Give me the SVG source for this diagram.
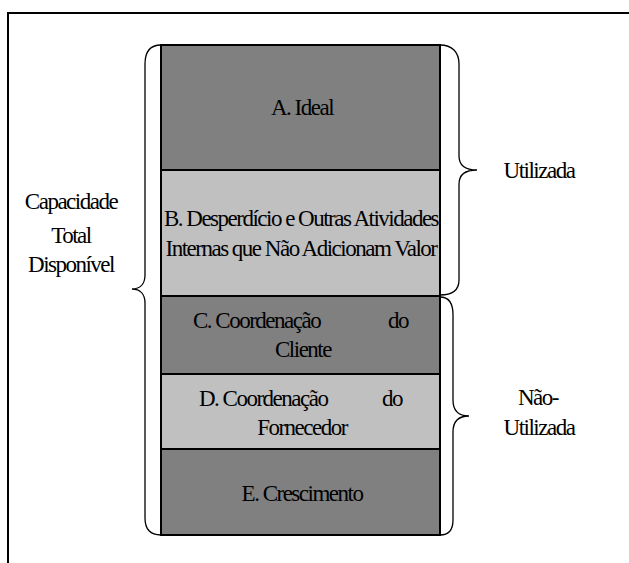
<svg xmlns="http://www.w3.org/2000/svg" width="629" height="563" viewBox="0 0 629 563">
<style>
text{font-family:'Liberation Serif','Times New Roman','DejaVu Serif',serif;font-size:23px;fill:#000;letter-spacing:-1.5px}
.c{text-anchor:middle}
.dark{fill:#808080;stroke:#000;stroke-width:2}
.light{fill:#c0c0c0;stroke:#000;stroke-width:2}
.brace{fill:none;stroke:#000;stroke-width:1.3}
.frame{fill:none;stroke:#000;stroke-width:2}
</style>
<rect width="629" height="563" fill="#fff"/>
<path class="frame" d="M8,563 L8,13 L629,13"/>
<g id="nodeA"><rect class="dark" x="161" y="45" width="279" height="125"/><text class="c" x="302" y="115">A. Ideal</text></g>
<g id="nodeB"><rect class="light" x="161" y="170" width="279" height="126"/><text class="c" x="301" y="226">B. Desperdício e Outras Atividades</text><text class="c" x="301" y="256">Internas que Não Adicionam Valor</text></g>
<g id="nodeC"><rect class="dark" x="161" y="296" width="279" height="78"/><text x="193" y="328">C. Coordenação</text><text x="388" y="328">do</text><text class="c" x="303" y="357">Cliente</text></g>
<g id="nodeD"><rect class="light" x="161" y="374" width="279" height="75"/><text x="199" y="406">D. Coordenação</text><text x="382" y="406">do</text><text class="c" x="302" y="435">Fornecedor</text></g>
<g id="nodeE"><rect class="dark" x="161" y="449" width="279" height="86"/><text class="c" x="302" y="501">E. Crescimento</text></g>
<g id="connectors">
<path class="brace" d="M161,45 C150,45 145,52 145,64 L145,275 C145,284 140,289 132,289 C140,289 145,294 145,303 L145,518 C145,529 150,535 161,535"/>
<path class="brace" d="M440,45 C452,45 459,52 459,64 L459,156 C459,165 465,170 477,170 C465,170 459,175 459,184 L459,280 C459,290 452,295 440,295"/>
<path class="brace" d="M440,297 C448,297 453,303 453,315 L453,400 C453,410 458,416 469,416 C458,416 453,422 453,432 L453,520 C453,530 448,535 440,535"/>
</g>
<g id="labelTotal"><text class="c" x="71" y="209">Capacidade</text><text class="c" x="71" y="243">Total</text><text class="c" x="71" y="272">Disponível</text></g>
<g id="labelUtil"><text class="c" x="539" y="178">Utilizada</text></g>
<g id="labelNao"><text class="c" x="538" y="405">Não-</text><text class="c" x="539" y="435">Utilizada</text></g>
</svg>
